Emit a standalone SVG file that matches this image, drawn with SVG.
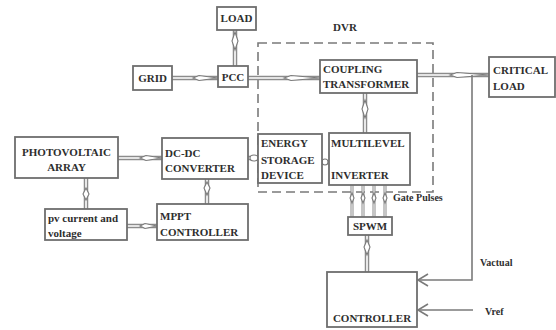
<svg xmlns="http://www.w3.org/2000/svg" width="556" height="330" viewBox="0 0 556 330">
<style>
.box{fill:#fff;stroke:#6e6e6e;stroke-width:1.8}
text{font-family:"Liberation Serif","DejaVu Serif",serif;font-weight:bold;font-size:11px;fill:#2e2e2e}
.s{font-size:10px}
.d1{fill:none;stroke:#8c8c8c;stroke-width:4.5}
.d2{fill:none;stroke:#fff;stroke-width:1.6}
.g1{fill:none;stroke:#8c8c8c;stroke-width:3}
.g2{fill:none;stroke:#fff;stroke-width:1}
.hd{fill:#fff;stroke:#7a7a7a;stroke-width:1.1}
.ln{fill:none;stroke:#7a7a7a;stroke-width:1.6}
.dash{fill:none;stroke:#7a7a7a;stroke-width:1.6;stroke-dasharray:9 5}
</style>
<rect width="556" height="330" fill="#fff"/>
<g id="connectors">
  <rect class="dash" x="258" y="43" width="175" height="149"/>
  <path class="d1" d="M235,30V66 M172,78H218 M248,78H320 M417,75H489 M365,93V133 M118,158H162 M86,178V209 M127,226H157 M207,179V204 M367,235V272 M248,158H255"/>
  <path class="d2" d="M235,30V66 M172,78H218 M248,78H320 M417,75H489 M365,93V133 M118,158H162 M86,178V209 M127,226H157 M207,179V204 M367,235V272 M248,158H255"/>
  <path class="g1" d="M352,185V217 M363,185V217 M374,185V217 M385,185V217"/>
  <path class="g2" d="M352,185V217 M363,185V217 M374,185V217 M385,185V217"/>
  <polygon class="hd" points="193,78 199,75.5 218,78 199,80.5"/>
  <polygon class="hd" points="284,78 291,75.5 320,78 291,80.5"/>
  <polygon class="hd" points="450,75 457,72.5 489,75 457,77.5"/>
  <polygon class="hd" points="140,158 146,155.5 162,158 146,160.5"/>
  <polygon class="hd" points="140,226 145,223.5 157,226 145,228.5"/>
  <polygon class="hd" points="235,32 238,41 235,50 232,41"/>
  <polygon class="hd" points="365,100 368,109 365,118 362,109"/>
  <polygon class="hd" points="86,188 89,194 86,200 83,194"/>
  <polygon class="hd" points="207,182 210,188 207,195 204,188"/>
  <polygon class="hd" points="367,240 370,247 367,255 364,247"/>
  <ellipse class="hd" cx="254" cy="158" rx="4" ry="3"/>
  <ellipse class="hd" cx="325" cy="162" rx="3" ry="3"/>
  <polygon class="hd" points="352,193 354,198 352,203 350,198"/>
  <polygon class="hd" points="363,193 365,198 363,203 361,198"/>
  <polygon class="hd" points="374,193 376,198 374,203 372,198"/>
  <polygon class="hd" points="385,193 387,198 385,203 383,198"/>
  <path class="ln" d="M472,75V280H418"/>
  <path class="ln" d="M428,274L418,280L428,286"/>
  <path class="ln" d="M473,310H418"/>
  <path class="ln" d="M428,304L418,310L428,316"/>
</g>
<text x="333" y="31">DVR</text>
<g id="load"><rect class="box" x="217" y="7" width="39" height="23"/><text x="236.5" y="22" text-anchor="middle">LOAD</text></g>
<g id="grid"><rect class="box" x="133" y="66" width="39" height="24"/><text x="152.5" y="82" text-anchor="middle">GRID</text></g>
<g id="pcc"><rect class="box" x="218" y="66" width="30" height="21"/><text x="233" y="81" text-anchor="middle">PCC</text></g>
<g id="coupling"><rect class="box" x="320" y="60" width="97" height="33"/><text x="323" y="73">COUPLING</text><text x="323" y="88">TRANSFORMER</text></g>
<g id="critical"><rect class="box" x="489" y="57" width="66" height="40"/><text x="493" y="74">CRITICAL</text><text x="493" y="90">LOAD</text></g>
<g id="pv"><rect class="box" x="15" y="137" width="103" height="41"/><text x="66.5" y="156" text-anchor="middle">PHOTOVOLTAIC</text><text x="66.5" y="171" text-anchor="middle">ARRAY</text></g>
<g id="dcdc"><rect class="box" x="162" y="138" width="86" height="41"/><text x="165" y="157">DC-DC</text><text x="165" y="172">CONVERTER</text></g>
<g id="pvcur"><rect class="box" x="45" y="209" width="82" height="31"/><text x="48" y="222">pv current and</text><text x="48" y="237">voltage</text></g>
<g id="mppt"><rect class="box" x="157" y="204" width="91" height="36"/><text x="160" y="220">MPPT</text><text x="160" y="236">CONTROLLER</text></g>
<g id="energy"><rect class="box" x="258" y="134" width="64" height="49"/><text x="261" y="147">ENERGY</text><text x="261" y="164">STORAGE</text><text x="261" y="179">DEVICE</text></g>
<g id="inverter"><rect class="box" x="329" y="133" width="81" height="52"/><text x="331" y="147">MULTILEVEL</text><text x="331" y="179">INVERTER</text></g>
<text class="s" x="393" y="201">Gate Pulses</text>
<g id="spwm"><rect class="box" x="348" y="217" width="44" height="18"/><text x="370" y="230" text-anchor="middle">SPWM</text></g>
<g id="controller"><rect class="box" x="327" y="272" width="90" height="55"/><text x="372" y="322" text-anchor="middle">CONTROLLER</text></g>
<text class="s" x="480" y="266">Vactual</text>
<text class="s" x="485" y="315">Vref</text>
</svg>
